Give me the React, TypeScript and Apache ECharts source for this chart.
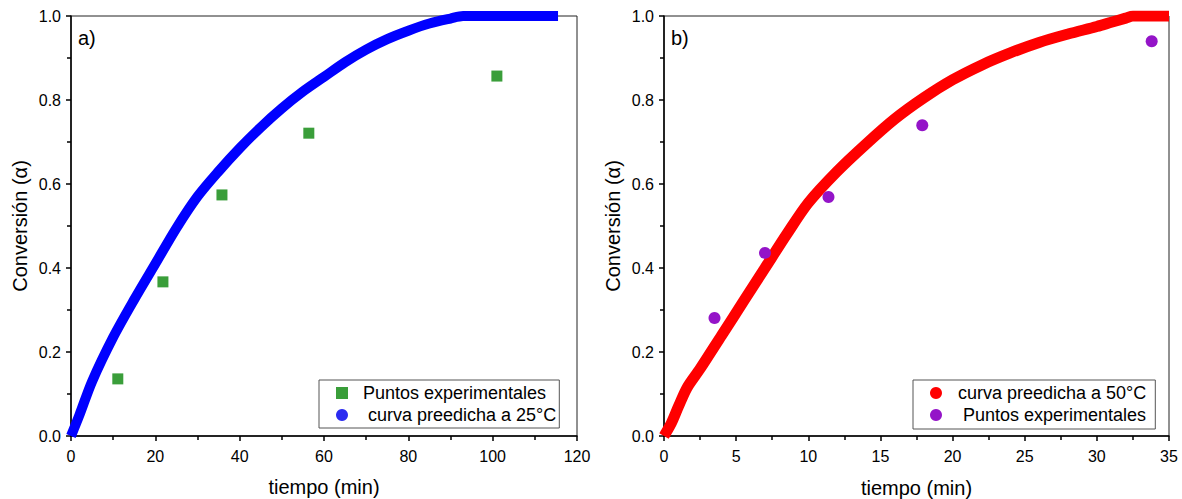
import React, { useEffect, useRef } from "react";
import * as echarts from "echarts";

// Panel a) — predicted curve at 25 °C (blue) and experimental points (green squares)
const curveA_t = [0, 2, 5, 10, 15, 20, 25, 30, 35, 40, 45, 50, 55, 60, 65, 70, 75, 80, 85, 90, 93, 100, 115.5];
const curveA_a = [0, 0.05, 0.13, 0.235, 0.325, 0.41, 0.495, 0.57, 0.63, 0.685, 0.735, 0.78, 0.82, 0.855, 0.89, 0.92, 0.945, 0.965, 0.982, 0.994, 1.0, 1.0, 1.0];
const expA_t = [11.1, 21.8, 35.8, 56.4, 101];
const expA_a = [0.136, 0.367, 0.574, 0.721, 0.857];

// Panel b) — predicted curve at 50 °C (red) and experimental points (purple circles)
const curveB_t = [0, 0.5, 1, 1.6, 2.5, 4, 5.5, 7, 8.5, 10, 12, 14, 16, 18, 20, 22, 24, 26, 28, 30, 31, 32, 32.5, 35];
const curveB_a = [0, 0.03, 0.07, 0.115, 0.16, 0.24, 0.32, 0.4, 0.48, 0.555, 0.63, 0.695, 0.755, 0.805, 0.848, 0.883, 0.912, 0.937, 0.957, 0.975, 0.985, 0.995, 1.0, 1.0];
const expB_t = [3.5, 7.0, 11.4, 17.9, 33.8];
const expB_a = [0.281, 0.436, 0.569, 0.74, 0.94];

const xTicksA = { min: 0, max: 120, interval: 20 };
const xTicksB = { min: 0, max: 35, interval: 5 };

const labelA = "a)";
const labelB = "b)";
const nameExp = "Puntos experimentales";
const nameCurveA = "curva preedicha a 25°C";
const nameCurveB = "curva preedicha a 50°C";
const xTitle = "tiempo (min)";
const yTitle = "Conversión (α)";

const FONT = "'Liberation Sans', Arial, sans-serif";

const zip = (xs: number[], ys: number[]) => xs.map((x, i) => [x, ys[i]]);

export default function App() {
  const ref = useRef<HTMLDivElement>(null);

  useEffect(() => {
    document.body.style.margin = "0";
    const chart = echarts.init(ref.current!, null, { renderer: "svg" });

    const xAxisBase = (idx: number, t: { min: number; max: number; interval: number }, gap: number) => ({
      type: "value",
      gridIndex: idx,
      min: t.min,
      max: t.max,
      interval: t.interval,
      name: xTitle,
      nameLocation: "middle",
      nameGap: gap,
      nameTextStyle: { fontFamily: FONT, fontSize: 20, color: "#000" },
      axisLine: { show: true, onZero: false, lineStyle: { color: "#000", width: 1.5 } },
      axisTick: { show: true, inside: false, length: 5, lineStyle: { color: "#000", width: 1.5 } },
      minorTick: { show: true, splitNumber: 2, length: 4, lineStyle: { color: "#000", width: 1.5 } },
      axisLabel: { fontFamily: FONT, fontSize: 16, color: "#000", margin: 12 },
      splitLine: { show: false },
    });
    const yAxisBase = (idx: number) => ({
      type: "value",
      gridIndex: idx,
      min: 0,
      max: 1,
      interval: 0.2,
      name: yTitle,
      nameLocation: "middle",
      nameGap: 41,
      nameTextStyle: { fontFamily: FONT, fontSize: 20, color: "#000" },
      axisLine: { show: true, onZero: false, lineStyle: { color: "#000", width: 1.5 } },
      axisTick: { show: true, inside: false, length: 5, lineStyle: { color: "#000", width: 1.5 } },
      minorTick: { show: true, splitNumber: 2, length: 4, lineStyle: { color: "#000", width: 1.5 } },
      axisLabel: {
        fontFamily: FONT,
        fontSize: 16,
        color: "#000",
        margin: 10,
        formatter: (v: number) => v.toFixed(1),
      },
      splitLine: { show: false },
    });

    const txt = (pad: number) => ({
      fontFamily: FONT,
      fontSize: 18,
      lineHeight: 18,
      color: "#000",
      padding: [0, 0, 0, pad],
    });

    const legendBase = {
      orient: "vertical",
      backgroundColor: "#fff",
      borderColor: "#555",
      borderWidth: 1,
      borderRadius: 0,
      itemWidth: 12,
      itemHeight: 12,
      itemGap: 4,
      padding: [4, 3, 4, 17],
      textStyle: txt(10),
      selectedMode: false,
    };

    chart.setOption({
      animation: false,
      backgroundColor: "#fff",
      grid: [
        { left: 71, top: 16, width: 506, height: 420, show: true, borderColor: "#222", borderWidth: 1, outerBoundsMode: "none", containLabel: false },
        { left: 664, top: 16, width: 505, height: 420, show: true, borderColor: "#222", borderWidth: 1, outerBoundsMode: "none", containLabel: false },
      ],
      xAxis: [xAxisBase(0, xTicksA, 41), xAxisBase(1, xTicksB, 42)],
      yAxis: [yAxisBase(0), yAxisBase(1)],
      legend: [
        {
          ...legendBase,
          left: 319,
          top: 380,
          data: [
            { name: nameExp, icon: "rect", itemStyle: { color: "#3a9e3a" }, textStyle: txt(10) },
            { name: nameCurveA, icon: "circle", itemStyle: { color: "#2b2bf0" }, textStyle: txt(15) },
          ],
        },
        {
          ...legendBase,
          left: 913,
          top: 380,
          padding: [4, 9, 5, 17],
          data: [
            { name: nameCurveB, icon: "circle", itemStyle: { color: "#ff0000" }, textStyle: txt(11) },
            { name: nameExp, icon: "circle", itemStyle: { color: "#9414c8" }, textStyle: txt(16) },
          ],
        },
      ],
      graphic: [
        { type: "text", left: 78, top: 28, style: { text: labelA, fontFamily: FONT, fontSize: 20, fill: "#000" } },
        { type: "text", left: 671, top: 28, style: { text: labelB, fontFamily: FONT, fontSize: 20, fill: "#000" } },
      ],
      series: [
        {
          name: nameCurveA,
          type: "line",
          xAxisIndex: 0,
          yAxisIndex: 0,
          data: zip(curveA_t, curveA_a),
          smooth: 0.3,
          showSymbol: false,
          lineStyle: { color: "#0000ff", width: 10 },
          itemStyle: { color: "#0000ff" },
          clip: true,
          z: 2,
        },
        {
          name: nameExp,
          type: "scatter",
          xAxisIndex: 0,
          yAxisIndex: 0,
          data: zip(expA_t, expA_a),
          symbol: "rect",
          symbolSize: 11,
          itemStyle: { color: "#3a9e3a", opacity: 1 },
          z: 3,
        },
        {
          name: nameCurveB,
          type: "line",
          xAxisIndex: 1,
          yAxisIndex: 1,
          data: zip(curveB_t, curveB_a),
          smooth: 0.3,
          showSymbol: false,
          lineStyle: { color: "#ff0000", width: 11 },
          itemStyle: { color: "#ff0000" },
          clip: true,
          z: 2,
        },
        {
          name: nameExp,
          type: "scatter",
          xAxisIndex: 1,
          yAxisIndex: 1,
          data: zip(expB_t, expB_a),
          symbol: "circle",
          symbolSize: 12,
          itemStyle: { color: "#9414c8", opacity: 1 },
          z: 3,
        },
      ],
    });

    return () => chart.dispose();
  }, []);

  return <div ref={ref} style={{ position: "absolute", left: 0, top: 0, width: 1182, height: 499 }} />;
}
